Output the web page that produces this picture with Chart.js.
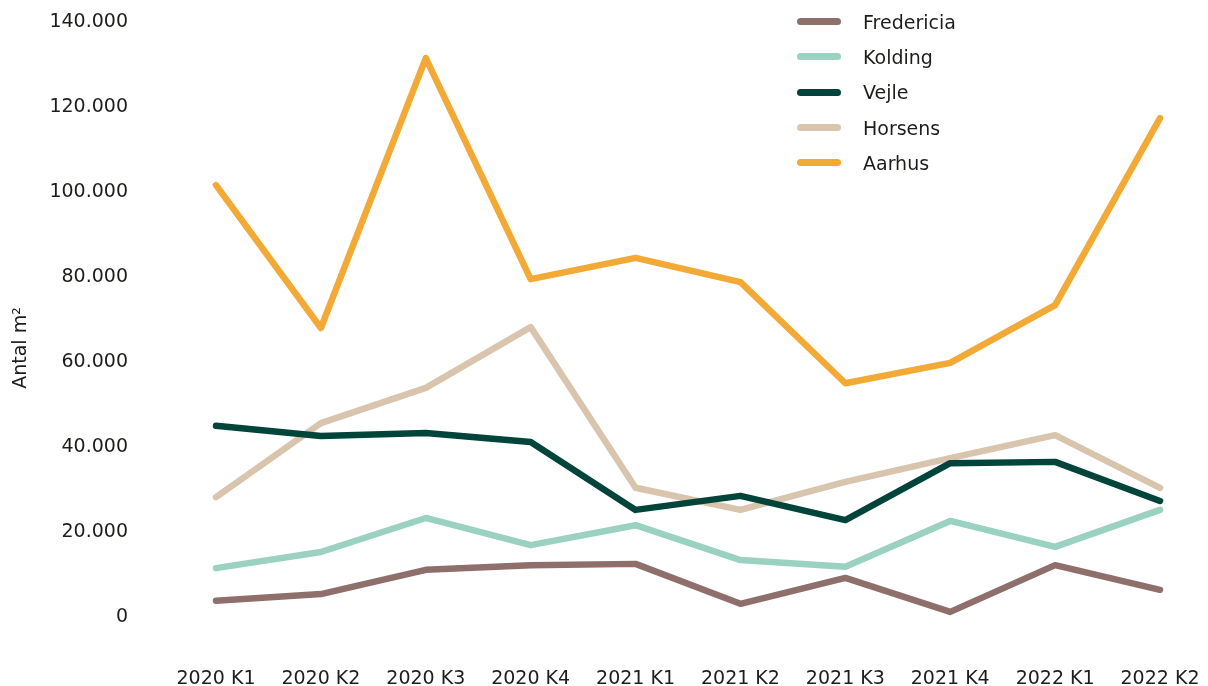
<!DOCTYPE html>
<html>
<head>
<meta charset="utf-8">
<script src="https://cdn.jsdelivr.net/npm/chart.js@4.4.1/dist/chart.umd.min.js"></script>
<style>
  html, body { margin: 0; padding: 0; background: #ffffff; }
  #wrap { position: relative; width: 1208px; height: 686px; }
  #chart { display: block; }
  #legend { position: absolute; left: 797px; top: 4px; font-family: 'DejaVu Sans', sans-serif; font-size: 19px; color: #1d1d1b; }
  .row { display: flex; align-items: center; height: 35.3px; }
  .swatch { width: 44px; height: 7px; border-radius: 4px; margin-right: 22px; }
</style>
</head>
<body>
<div id="wrap">
  <canvas id="chart" width="1208" height="686"></canvas>
  <div id="legend"></div>
</div>
<script>
// Categories
const kvartaler = ['2020 K1', '2020 K2', '2020 K3', '2020 K4', '2021 K1', '2021 K2', '2021 K3', '2021 K4', '2022 K1', '2022 K2'];

// Series (m2)
const fredericia = [3800, 5400, 11100, 12200, 12500, 3100, 9200, 1200, 12200, 6400];
const kolding = [11500, 15300, 23300, 16900, 21600, 13400, 11800, 22600, 16500, 25200];
const vejle = [45000, 42600, 43300, 41200, 25200, 28500, 22800, 36200, 36500, 27300];
const horsens = [28200, 45600, 53900, 68200, 30400, 25200, 31800, 37400, 42800, 30400];
const aarhus = [101600, 68000, 131500, 79500, 84500, 78800, 55000, 59800, 73400, 117400];

const yTicks = [0, 20000, 40000, 60000, 80000, 100000, 120000, 140000];
const yTitle = 'Antal m²';

const series = [
  { label: 'Fredericia', data: fredericia, color: '#8f6f6b' },
  { label: 'Kolding', data: kolding, color: '#9bd1c1' },
  { label: 'Vejle', data: vejle, color: '#00443a' },
  { label: 'Horsens', data: horsens, color: '#d9c5ae' },
  { label: 'Aarhus', data: aarhus, color: '#f3a935' }
];

const textColor = '#1d1d1b';
const tickFont = { family: "'DejaVu Sans', sans-serif", size: 19 };

// Thousand separator with dots
function fmt(v) {
  return String(v).replace(/\B(?=(\d{3})+(?!\d))/g, '.');
}

// Rotated y-axis title, placed a bit below the axis middle like the original
const yTitlePlugin = {
  id: 'yTitle',
  afterDraw(chart) {
    const ctx = chart.ctx;
    ctx.save();
    ctx.translate(21, 348);
    ctx.rotate(-Math.PI / 2);
    ctx.fillStyle = textColor;
    ctx.font = "19px 'DejaVu Sans', sans-serif";
    ctx.textAlign = 'center';
    ctx.textBaseline = 'middle';
    ctx.fillText(yTitle, 0, 0);
    ctx.restore();
  }
};

new Chart(document.getElementById('chart'), {
  type: 'line',
  data: {
    labels: kvartaler,
    datasets: series.map(s => ({
      label: s.label,
      data: s.data,
      borderColor: s.color,
      backgroundColor: s.color,
      borderWidth: 6.5,
      borderCapStyle: 'round',
      borderJoinStyle: 'round',
      pointRadius: 0,
      tension: 0,
      clip: false
    }))
  },
  plugins: [yTitlePlugin],
  options: {
    responsive: false,
    animation: false,
    layout: { padding: { top: 22, right: 48, left: 0, bottom: 0 } },
    plugins: {
      legend: { display: false },
      tooltip: { enabled: false }
    },
    scales: {
      x: {
        offset: false,
        grid: { display: false, drawTicks: false },
        border: { display: false },
        afterFit: axis => {
          axis.height = 69;
          axis.paddingLeft = 0;
          axis.paddingRight = 0;
        },
        ticks: { color: textColor, font: tickFont, padding: 51, maxRotation: 0, autoSkip: false }
      },
      y: {
        min: 0,
        max: 140000,
        afterBuildTicks: axis => { axis.ticks = yTicks.map(v => ({ value: v })); },
        afterFit: axis => {
          axis.width = 216;
          axis.paddingTop = 0;
          axis.paddingBottom = 0;
        },
        grid: { display: false, drawTicks: false },
        border: { display: false },
        ticks: {
          color: textColor,
          font: tickFont,
          padding: 88,
          callback: v => fmt(v)
        }
      }
    }
  }
});

// Vertical legend
const legendEl = document.getElementById('legend');
series.forEach(s => {
  const row = document.createElement('div');
  row.className = 'row';
  const sw = document.createElement('span');
  sw.className = 'swatch';
  sw.style.background = s.color;
  const txt = document.createElement('span');
  txt.textContent = s.label;
  row.appendChild(sw);
  row.appendChild(txt);
  legendEl.appendChild(row);
});
</script>
</body>
</html>
